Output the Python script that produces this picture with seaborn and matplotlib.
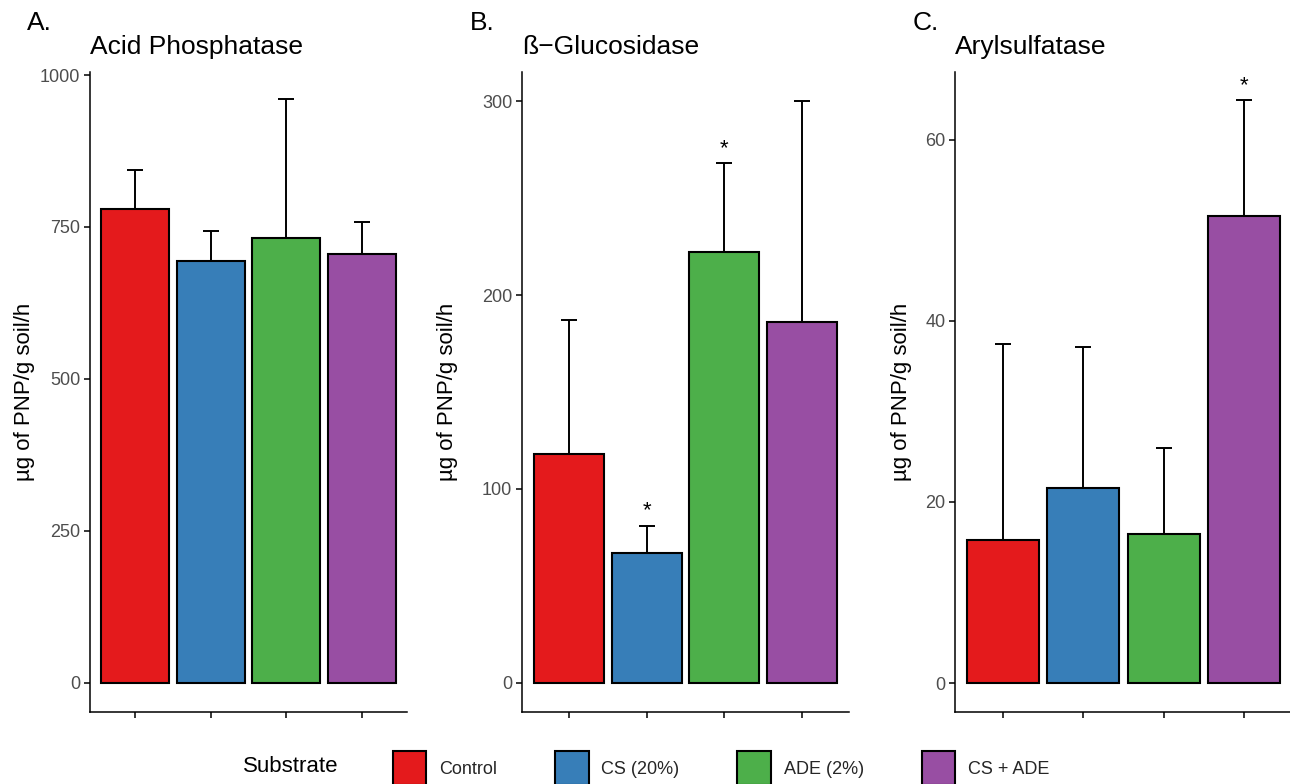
import matplotlib
matplotlib.use("Agg")
import matplotlib.pyplot as plt
import seaborn as sns
from matplotlib.patches import Patch

sns.set_theme(style="ticks")
plt.rcParams['font.family'] = ['Liberation Sans', 'DejaVu Sans']

categories = ["Control", "CS (20%)", "ADE (2%)", "CS + ADE"]
colors = ["#E41A1C", "#377EB8", "#4DAF4A", "#984EA3"]

panel_letters = ["A.", "B.", "C."]
titles = ["Acid Phosphatase", "\u00df\u2212Glucosidase", "Arylsulfatase"]

acid_mean = [780, 694, 732, 706]
acid_upper = [844, 744, 960, 758]
acid_sig = ["", "", "", ""]

gluc_mean = [118, 67, 222, 186]
gluc_upper = [187, 81, 268, 300]
gluc_sig = ["", "*", "*", ""]

aryl_mean = [15.8, 21.5, 16.5, 51.6]
aryl_upper = [37.5, 37.1, 26.0, 64.4]
aryl_sig = ["", "", "", "*"]

yticks = [[0, 250, 500, 750, 1000], [0, 100, 200, 300], [0, 20, 40, 60]]
ylims = [(-48, 1005), (-15, 315), (-3.2, 67.5)]

ylabel = "\u00b5g of PNP/g soil/h"

fig = plt.figure(figsize=(12.9, 7.84), dpi=100)
W, H = 1290, 784
axes_px = [(90, 317), (522, 327), (955, 337)]
letter_x = [27, 470, 913]
ylabel_cx = [25, 448, 902]
top_px, bot_px = 72, 712

data = [(acid_mean, acid_upper, acid_sig),
        (gluc_mean, gluc_upper, gluc_sig),
        (aryl_mean, aryl_upper, aryl_sig)]

for i, ((left, width), (means, uppers, sigs)) in enumerate(zip(axes_px, data)):
    ax = fig.add_axes([left / W, 1 - bot_px / H, width / W, (bot_px - top_px) / H])
    sns.barplot(x=categories, y=means, hue=categories, palette=colors,
                saturation=1, width=0.9, edgecolor="black", linewidth=1.5,
                legend=False, errorbar=None, ax=ax, zorder=2)
    xs = list(range(len(categories)))
    err = [u - m for u, m in zip(uppers, means)]
    ax.errorbar(xs, means, yerr=[[0] * len(err), err], fmt="none",
                ecolor="black", elinewidth=1.4, capsize=5.8, capthick=1.4,
                zorder=1)
    for x, u, s in zip(xs, uppers, sigs):
        if s:
            ax.annotate(s, (x, u), xytext=(0, 3), textcoords="offset points",
                        ha="center", va="bottom", fontsize=16, color="black")
    ax.set_xlim(-0.6, 3.6)
    ax.set_ylim(*ylims[i])
    ax.set_yticks(yticks[i])
    ax.set_xticks(xs)
    ax.set_xticklabels([])
    ax.set_xlabel("")
    ax.set_ylabel(ylabel, fontsize=16, color="black", va="center")
    ax.yaxis.set_label_coords((ylabel_cx[i] - left) / width, 0.5)
    ax.tick_params(axis="y", labelsize=13, labelcolor="#4D4D4D", length=4,
                   width=1.1, color="black", pad=3)
    ax.tick_params(axis="x", length=4, width=1.1, color="black")
    sns.despine(ax=ax)
    for sp in ["left", "bottom"]:
        ax.spines[sp].set_linewidth(1.1)
        ax.spines[sp].set_color("black")
    ax.set_facecolor("white")
    ax.text(0.0, 1 + (top_px - 54) / (bot_px - top_px), titles[i],
            transform=ax.transAxes, fontsize=19, ha="left", va="baseline",
            color="black")
    fig.text(letter_x[i] / W, 1 - 30 / H, panel_letters[i], fontsize=19,
             ha="left", va="baseline", color="black")

# legend
fig.text(243 / W, 1 - 766 / H, "Substrate", fontsize=16, ha="left",
         va="center", color="black")
handles = [Patch(facecolor=c, edgecolor="black", linewidth=1.5) for c in colors]
leg = fig.legend(handles, categories, loc="upper left",
                 bbox_to_anchor=(393 / W, 1 - 751 / H), ncol=4, frameon=False,
                 fontsize=13, handlelength=1.85, handleheight=2.53,
                 columnspacing=3.22, handletextpad=0.7, borderpad=0,
                 borderaxespad=0)

fig.savefig("out.png", dpi=100, facecolor="white")
